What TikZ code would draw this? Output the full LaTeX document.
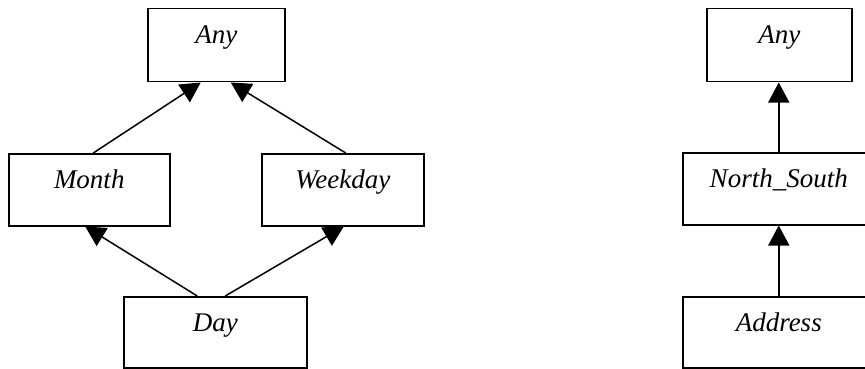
\documentclass[tikz,border=0pt]{standalone}
\usepackage{fontspec}
\setmainfont{Liberation Serif}
\usetikzlibrary{arrows.meta}
\begin{document}
\begin{tikzpicture}[x=1pt,y=-1pt,
  box/.style={draw, line width=1.5pt, inner sep=0pt, anchor=north west,
    font=\fontsize{27}{32}\selectfont\itshape, text height=35pt},
  isa/.style={line width=1.5pt, -{Triangle[length=20pt,width=21pt]}}]
\useasboundingbox (0,0) rectangle (865,369);
\clip (0,0) rectangle (865,369);
% left hierarchy: Day -> Month / Weekday -> Any
\node[box, minimum width=137pt, text depth=38pt] (any1) at (147,8) {Any};
\node[box, minimum width=161pt, text depth=37pt] (month) at (8,153) {Month};
\node[box, minimum width=162pt, text depth=37pt] (weekday) at (261,153) {Weekday};
\node[box, minimum width=183pt, text depth=36pt] (day) at (123,296) {Day};
\draw[isa] ([xshift=4pt]month.north) -- ([xshift=-15.5pt]any1.south);
\draw[isa] ([xshift=3pt]weekday.north) -- ([xshift=14.5pt]any1.south);
\draw[isa] ([xshift=-18pt]day.north) -- ([xshift=-4pt]month.south);
\draw[isa] ([xshift=10pt]day.north) -- ([xshift=1pt]weekday.south);
% right hierarchy: Address -> North_South -> Any
\node[box, minimum width=145pt, text depth=38pt] (any2) at (706,8) {Any};
\node[box, minimum width=192pt, text depth=37pt] (ns) at (682,152) {North\_South};
\node[box, minimum width=192pt, text depth=36pt] (addr) at (682,296) {Address};
\draw[isa] (ns.north) -- (ns.north |- any2.south);
\draw[isa] (addr.north) -- (ns.south);
\end{tikzpicture}
\end{document}
